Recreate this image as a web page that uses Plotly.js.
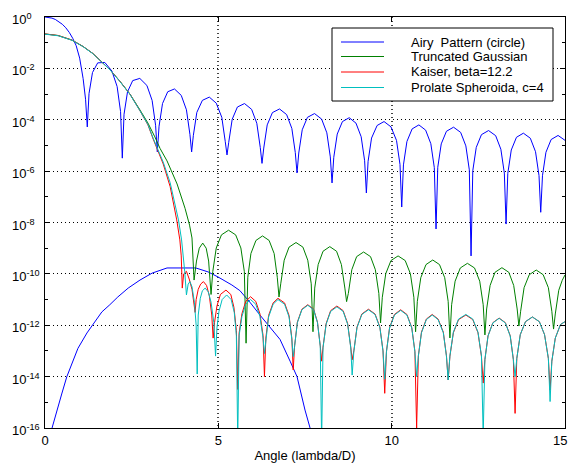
<!DOCTYPE html>
<html>
<head>
<meta charset="utf-8">
<script src="https://cdn.plot.ly/plotly-3.0.1.min.js"></script>
<style>html,body{margin:0;padding:0;background:#fff;}#chart{width:570px;height:466px;}</style>
</head>
<body>
<div id="chart"></div>
<script>
// ---- data ----
const seriesNames = ["Airy\u00a0 Pattern (circle)", "Truncated Gaussian", "Kaiser, beta=12.2", "Prolate Spheroida, c=4"];

const airyX = [0,0.1,0.2,0.3,0.4,0.5,0.6,0.7,0.8,0.9,1.0,1.1,1.17,
 1.22,1.27,1.37,1.52,1.725,1.93,2.08,2.18,
 2.23,2.28,2.38,2.53,2.735,2.94,3.09,3.19,
 3.24,3.29,3.39,3.54,3.735,3.93,4.08,4.18,
 4.23,4.28,4.38,4.54,4.74,4.94,5.10,5.20,
 5.25,5.30,5.40,5.55,5.755,5.96,6.11,6.21,
 6.26,6.31,6.41,6.56,6.765,6.97,7.12,7.22,
 7.27,7.32,7.42,7.57,7.775,7.98,8.13,8.23,
 8.28,8.33,8.43,8.58,8.775,8.97,9.12,9.22,
 9.27,9.32,9.42,9.58,9.78,9.98,10.14,10.24,
 10.29,10.34,10.44,10.59,10.785,10.98,11.13,11.23,
 11.28,11.33,11.43,11.58,11.785,11.99,12.14,12.24,
 12.29,12.34,12.44,12.59,12.795,13.0,13.15,13.25,
 13.3,13.35,13.45,13.6,13.8,14.0,14.15,14.25,
 14.3,14.35,14.45,14.6,14.8,15.0];
const airyY = [1,0.975,0.906,0.80,0.668,0.521,0.38,0.251,0.148,0.0759,0.0251,3.98e-3,6.3e-4,
 5.25e-5,1.05e-3,6.9e-3,0.0164,0.0170,7.9e-3,1.97e-3,2.07e-4,
 3.2e-6,1.64e-4,1.22e-3,3.35e-3,4.07e-3,2.16e-3,5.66e-4,6.1e-5,
 5.6e-6,5.6e-5,4.29e-4,1.23e-3,1.58e-3,8.9e-4,2.44e-4,2.71e-5,
 5.6e-6,2.48e-5,1.93e-4,5.69e-4,7.6e-4,4.42e-4,1.24e-4,1.4e-5,
 4.27e-6,1.32e-5,1.04e-4,3.13e-4,4.27e-4,2.54e-4,7.3e-5,8.3e-6,
 2.0e-6,7.9e-6,6.3e-5,1.9e-4,2.63e-4,1.59e-4,4.6e-5,5.3e-6,
 8.5e-7,5.07e-6,4.06e-5,1.24e-4,1.74e-4,1.06e-4,3.1e-5,3.59e-6,
 3.47e-7,3.44e-6,2.77e-5,8.5e-5,1.2e-4,7.4e-5,2.18e-5,2.53e-6,
 1.41e-7,2.4e-6,1.94e-5,5.98e-5,8.5e-5,5.28e-5,1.56e-5,1.82e-6,
 4.0e-8,1.75e-6,1.42e-5,4.4e-5,6.3e-5,3.94e-5,1.17e-5,1.37e-6,
 5.6e-9,1.41e-6,1.15e-5,3.56e-5,5.13e-5,3.22e-5,9.6e-6,1.12e-6,
 5.0e-10,1.04e-6,8.4e-6,2.63e-5,3.8e-5,2.4e-5,7.1e-6,8.4e-7,
 8.7e-9,8.2e-7,6.65e-6,2.08e-5,3.0e-5,1.91e-5,5.7e-6,6.7e-7,
 2.5e-8,6.6e-7,5.4e-6,1.7e-5,2.45e-5,1.58e-5];

// second blue curve (no legend entry)
const blueLowX = [0.14,0.2,0.35,0.49,0.63,0.78,0.95,1.21,1.44,1.64,1.87,2.1,2.4,2.74,3.09,3.32,3.52,4.35,4.7,4.99,5.39,5.62,5.91,6.2,6.49,6.78,7.07,7.27,7.5,7.64,7.75];
const blueLowY = [5e-17,1e-16,5e-16,2.3e-15,1e-14,3.4e-14,1.26e-13,5e-13,1.35e-12,3.3e-12,6.3e-12,1.26e-11,2.8e-11,5.75e-11,1.07e-10,1.41e-10,1.7e-10,1.7e-10,1.2e-10,7.6e-11,3.7e-11,2.24e-11,7.9e-12,2.5e-12,8.5e-13,2.8e-13,4e-14,1e-14,5e-16,1e-16,3.2e-17];

const gaussX = [0,0.38,0.78,1.10,1.38,1.59,1.88,2.16,2.45,2.74,2.97,3.17,3.32,3.52,3.81,4.04,4.17,4.24,
 4.30,4.37,4.45,4.55,4.65,4.72,
 4.79,4.84,4.94,5.09,5.295,5.5,5.65,5.75,
 5.80,5.85,5.94,6.085,6.275,6.465,6.61,6.70,
 6.75,6.80,6.90,7.04,7.24,7.44,7.58,7.68,
 7.73,7.78,7.88,8.02,8.215,8.41,8.55,8.65,
 8.70,8.75,8.85,8.99,9.19,9.39,9.53,9.63,
 9.68,9.73,9.83,9.98,10.185,10.39,10.54,10.64,
 10.69,10.74,10.84,10.99,11.185,11.38,11.53,11.63,
 11.68,11.73,11.83,11.98,12.185,12.39,12.54,12.64,
 12.69,12.74,12.84,12.98,13.18,13.38,13.52,13.62,
 13.67,13.72,13.82,13.97,14.17,14.37,14.52,14.62,
 14.67,14.72,14.82,14.92,15.0];
const gaussY = [0.219,0.19,0.126,0.0708,0.038,0.0209,8.7e-3,3.16e-3,1.0e-3,2.4e-4,7.4e-5,2.14e-5,7.6e-6,2.5e-6,3.16e-7,3.55e-8,7.9e-9,2.5e-9,
 5.75e-11,3.16e-10,1e-9,1.58e-9,1e-9,3.16e-10,
 1.58e-11,1.23e-10,1.02e-9,3.3e-9,5.0e-9,3.3e-9,1.02e-9,1.23e-10,
 2.0e-13,7.4e-11,6.2e-10,2.0e-9,3.0e-9,2.0e-9,6.2e-10,7.4e-11,
 1.26e-11,4.1e-11,3.4e-10,1.1e-9,1.66e-9,1.1e-9,3.4e-10,4.1e-11,
 5.6e-13,2.8e-11,2.3e-10,7.6e-10,1.15e-9,7.6e-10,2.3e-10,2.8e-11,
 8.3e-12,1.74e-11,1.45e-10,4.7e-10,7.1e-10,4.7e-10,1.45e-10,1.74e-11,
 1.23e-12,1.23e-11,1.02e-10,3.3e-10,5.0e-10,3.3e-10,1.02e-10,1.23e-11,
 5.6e-13,8.5e-12,7.1e-11,2.3e-10,3.47e-10,2.3e-10,7.1e-11,8.5e-12,
 3.2e-13,6.3e-12,5.2e-11,1.7e-10,2.57e-10,1.7e-10,5.2e-11,6.3e-12,
 4.2e-13,4.3e-12,3.55e-11,1.15e-10,1.74e-10,1.15e-10,3.55e-11,4.3e-12,
 9.3e-13,3.5e-12,2.9e-11,9.3e-11,1.41e-10,9.3e-11,2.9e-11,3.5e-12,
 7.1e-13,2.75e-12,2.3e-11,5.6e-11,9.1e-11];

const kaiserX = [0,0.38,0.78,1.10,1.38,1.59,1.88,2.16,2.45,2.74,2.97,3.12,3.41,3.61,3.70,3.80,3.89,3.93,
 3.96,4.0,4.08,4.16,4.24,
 4.33,4.36,4.42,4.49,4.57,4.66,4.74,4.81,
 4.85,4.89,4.96,5.06,5.22,5.36,5.45,5.52,
 5.56,5.60,5.68,5.79,5.93,6.08,6.20,6.29,
 6.33,6.37,6.45,6.58,6.72,6.91,7.04,7.12,
 7.16,7.20,7.28,7.41,7.58,7.75,7.86,7.94,
 7.98,8.02,8.11,8.24,8.42,8.60,8.73,8.82,
 8.86,8.91,9.0,9.14,9.33,9.52,9.66,9.75,
 9.80,9.85,9.94,10.08,10.26,10.44,10.58,10.67,
 10.72,10.77,10.86,11.0,11.17,11.34,11.49,11.58,
 11.63,11.68,11.78,11.93,12.14,12.34,12.49,12.59,
 12.64,12.69,12.78,12.92,13.1,13.28,13.42,13.51,
 13.56,13.61,13.71,13.86,14.06,14.26,14.41,14.52,
 14.57,14.62,14.72,14.87,15.0];
const kaiserY = [0.219,0.19,0.126,0.0708,0.038,0.0209,8.7e-3,3.16e-3,1.0e-3,2.24e-4,6.3e-5,1.78e-5,1.9e-6,2.5e-7,6.3e-8,1.26e-8,2.1e-9,5.0e-10,
 2.8e-11,1e-10,1.26e-10,6.3e-11,2.5e-11,
 3.16e-12,1e-11,2.5e-11,4.0e-11,5.0e-11,3.55e-11,1.41e-11,2.5e-12,
 3.16e-13,1.26e-12,5.6e-12,1.58e-11,2.34e-11,1.58e-11,5.0e-12,6.3e-13,
 3.16e-15,5.0e-13,2.8e-12,8.5e-12,1.29e-11,8.5e-12,2.8e-12,4.0e-13,
 1e-14,3.16e-13,2.4e-12,7.4e-12,1.12e-11,7.4e-12,2.4e-12,3.16e-13,
 1.82e-14,1.58e-13,1.32e-12,4.2e-12,6.3e-12,4.2e-12,1.32e-12,1.58e-13,
 4.0e-14,1.41e-13,1.17e-12,3.7e-12,5.6e-12,3.7e-12,1.17e-12,1.41e-13,
 4.5e-14,1.02e-13,8.5e-13,2.75e-12,4.2e-12,2.75e-12,8.5e-13,1.02e-13,
 2.24e-15,9.8e-14,8.1e-13,2.63e-12,4.0e-12,2.63e-12,8.1e-13,9.8e-14,
 1e-16,6.5e-14,5.4e-13,1.74e-12,2.63e-12,1.74e-12,5.4e-13,6.5e-14,
 7.4e-15,6.2e-14,5.1e-13,1.66e-12,2.5e-12,1.66e-12,5.1e-13,6.2e-14,
 5.6e-15,4.7e-14,3.9e-13,1.26e-12,1.9e-12,1.26e-12,3.9e-13,4.7e-14,
 3.7e-16,5.1e-14,4.3e-13,1.38e-12,2.1e-12,1.38e-12,4.3e-13,5.1e-14,
 3.0e-15,4.0e-14,3.16e-13,1.07e-12,1.38e-12];

const prolateX = [0,0.38,0.78,1.10,1.38,1.59,1.88,2.16,2.45,2.74,2.97,3.12,3.41,3.61,3.75,3.85,3.94,3.98,4.03,
 4.08,4.13,4.18,4.24,4.31,4.36,
 4.39,4.42,4.48,4.54,4.62,4.71,4.79,4.87,
 4.92,4.96,5.02,5.11,5.24,5.37,5.46,5.52,
 5.56,5.60,5.68,5.79,5.93,6.08,6.20,6.29,
 6.33,6.37,6.45,6.58,6.72,6.91,7.04,7.12,
 7.16,7.20,7.28,7.41,7.58,7.75,7.86,7.94,
 7.98,8.02,8.11,8.24,8.42,8.60,8.73,8.82,
 8.86,8.91,9.0,9.14,9.33,9.52,9.66,9.75,
 9.80,9.85,9.94,10.08,10.26,10.44,10.58,10.67,
 10.72,10.77,10.86,11.0,11.17,11.34,11.49,11.58,
 11.63,11.68,11.78,11.93,12.14,12.34,12.49,12.59,
 12.64,12.69,12.78,12.92,13.1,13.28,13.42,13.51,
 13.56,13.61,13.71,13.86,14.06,14.26,14.41,14.52,
 14.57,14.62,14.72,14.87,15.0];
const prolateY = [0.214,0.186,0.124,0.0700,0.0375,0.0207,8.6e-3,3.1e-3,9.8e-4,2.24e-4,6.5e-5,1.9e-5,2.24e-6,3.55e-7,5.6e-8,1.26e-8,2.1e-9,6.3e-10,1.26e-10,
 1.51e-11,4.0e-11,5.0e-11,3.16e-11,7.9e-12,1e-12,
 1.26e-14,2.5e-12,1.12e-11,2.2e-11,2.8e-11,2.0e-11,7.9e-12,1.26e-12,
 6.3e-14,7.9e-13,3.55e-12,1e-11,1.51e-11,1e-11,3.16e-12,4.0e-13,
 3.16e-17,4.0e-13,2.2e-12,6.6e-12,1e-11,6.6e-12,2.2e-12,3.16e-13,
 7.9e-14,2.8e-13,2.1e-12,6.6e-12,1e-11,6.6e-12,2.1e-12,2.8e-13,
 6.0e-14,1.51e-13,1.26e-12,4.0e-12,6.0e-12,4.0e-12,1.26e-12,1.51e-13,
 3.16e-17,1.32e-13,1.1e-12,3.47e-12,5.2e-12,3.47e-12,1.1e-12,1.32e-13,
 1.15e-14,9.8e-14,8.1e-13,2.63e-12,4.0e-12,2.63e-12,8.1e-13,9.8e-14,
 7.9e-15,9.3e-14,7.8e-13,2.5e-12,3.8e-12,2.5e-12,7.8e-13,9.3e-14,
 1e-14,6.2e-14,5.1e-13,1.66e-12,2.5e-12,1.66e-12,5.1e-13,6.2e-14,
 7.4e-15,6.5e-14,5.4e-13,1.74e-12,2.63e-12,1.74e-12,5.4e-13,6.5e-14,
 5.0e-17,4.6e-14,3.8e-13,1.23e-12,1.86e-12,1.23e-12,3.8e-13,4.6e-14,
 1e-14,5.1e-14,4.3e-13,1.38e-12,2.1e-12,1.38e-12,4.3e-13,5.1e-14,
 1.07e-15,4.0e-14,3.16e-13,1.07e-12,1.38e-12];

const xTickVals = [0, 5, 10, 15];
const xTickText = ["0", "5", "10", "15"];
const yTickExp = [0, -2, -4, -6, -8, -10, -12, -14, -16];
const yMinorExp = [-1, -3, -5, -7, -9, -11, -13, -15];

// ---- styling ----
const colors = ["#0000ff", "#008000", "#ff0000", "#00bfbf"];
const FONT = "Liberation Sans, Arial, Helvetica, sans-serif";

const traces = [
  {x: airyX, y: airyY, name: seriesNames[0], mode: "lines", line: {color: colors[0], width: 1}},
  {x: blueLowX, y: blueLowY, name: "", mode: "lines", line: {color: colors[0], width: 1}, showlegend: false},
  {x: gaussX, y: gaussY, name: seriesNames[1], mode: "lines", line: {color: colors[1], width: 1}},
  {x: kaiserX, y: kaiserY, name: seriesNames[2], mode: "lines", line: {color: colors[2], width: 1}},
  {x: prolateX, y: prolateY, name: seriesNames[3], mode: "lines", line: {color: colors[3], width: 1}}
];

// plot area in px: left 45, right 565, top 17, bottom 428
const PL = 45, PR = 565, PT = 17, PB = 428;
const px2x = p => (p - PL) / (PR - PL);
const px2y = p => (PB - p) / (PB - PT);

const annotations = yTickExp.map(e => ({
  xref: "paper", yref: "y", x: px2x(10), y: e, xanchor: "left", yanchor: "middle",
  text: "10<sup>" + e + "</sup>", showarrow: false, font: {family: FONT, size: 13, color: "#000"}, yshift: -2
}));

// the last x tick label sits at the right edge of the page: draw it right-aligned so it stays whole
const lastTick = xTickVals.length - 1;
annotations.push({
  xref: "x", yref: "paper", x: xTickVals[lastTick], y: 0, xanchor: "right", yanchor: "top",
  text: xTickText[lastTick], showarrow: false, xshift: 4, yshift: -3,
  font: {family: FONT, size: 13, color: "#000"}
});

const legendRowsPx = [42, 56.5, 72, 87.5];
const shapes = [{
  type: "rect", xref: "paper", yref: "paper",
  x0: px2x(332), x1: px2x(553), y0: px2y(101), y1: px2y(28),
  line: {color: "#000", width: 1}, fillcolor: "#fff", layer: "above"
}];
legendRowsPx.forEach((py, i) => {
  shapes.push({type: "line", xref: "paper", yref: "paper", x0: px2x(341), x1: px2x(384), y0: px2y(py), y1: px2y(py),
    line: {color: colors[i], width: 1}, layer: "above"});
  annotations.push({xref: "paper", yref: "paper", x: px2x(409), y: px2y(py), xanchor: "left", yanchor: "middle",
    text: seriesNames[i], showarrow: false, font: {family: FONT, size: 13, color: "#000"}});
});

const layout = {
  width: 570, height: 466,
  margin: {l: 45, r: 5, t: 17, b: 38, pad: 0},
  paper_bgcolor: "#fff", plot_bgcolor: "#fff",
  showlegend: false,
  font: {family: FONT, size: 13, color: "#000"},
  xaxis: {
    range: [0, 15], tickvals: xTickVals,
    ticktext: xTickText.map((t, i) => (i === lastTick ? "" : t)),
    ticks: "inside", ticklen: 5, tickcolor: "#000",
    showline: true, linecolor: "#000", linewidth: 1, mirror: "ticks",
    showgrid: true, gridcolor: "#444", gridwidth: 1.5, griddash: "1px,3px",
    zeroline: false, tickfont: {family: FONT, size: 13, color: "#000"},
    title: {text: "Angle (lambda/D)", font: {family: FONT, size: 13, color: "#000"}, standoff: 4}
  },
  yaxis: {
    type: "log", range: [-16, 0],
    tickvals: yTickExp.map(e => Math.pow(10, e)), showticklabels: false,
    ticks: "inside", ticklen: 5, tickcolor: "#000",
    showline: true, linecolor: "#000", linewidth: 1, mirror: "ticks",
    showgrid: true, gridcolor: "#000", gridwidth: 1, griddash: "1px,3px",
    zeroline: false,
    minor: {tickvals: yMinorExp.map(e => Math.pow(10, e)), ticks: "inside", ticklen: 3, tickcolor: "#000", showgrid: false}
  },
  shapes: shapes,
  annotations: annotations
};

Plotly.newPlot("chart", traces, layout, {displayModeBar: false});
</script>
</body>
</html>
